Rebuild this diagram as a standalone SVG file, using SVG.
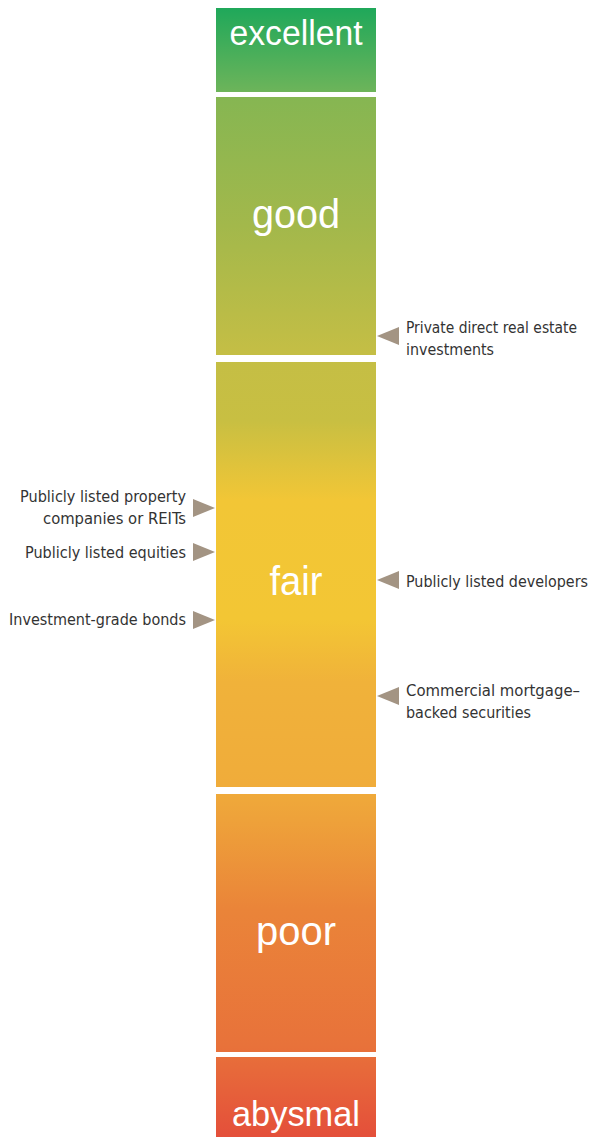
<svg xmlns="http://www.w3.org/2000/svg" width="592" height="1137" viewBox="0 0 592 1137">
<defs>
<linearGradient id="scale" gradientUnits="userSpaceOnUse" x1="0" y1="0" x2="0" y2="1137">
<stop offset="0.007" stop-color="#1fa85a"/>
<stop offset="0.08" stop-color="#6cb45a"/>
<stop offset="0.086" stop-color="#86b652"/>
<stop offset="0.2" stop-color="#a3b84b"/>
<stop offset="0.31" stop-color="#c4be45"/>
<stop offset="0.37" stop-color="#c8bf42"/>
<stop offset="0.44" stop-color="#f2c636"/>
<stop offset="0.545" stop-color="#f3c634"/>
<stop offset="0.6" stop-color="#f0b23a"/>
<stop offset="0.69" stop-color="#f0ac3a"/>
<stop offset="0.72" stop-color="#eea23a"/>
<stop offset="0.8" stop-color="#ea8439"/>
<stop offset="0.92" stop-color="#e8723a"/>
<stop offset="1" stop-color="#e44f3a"/>
</linearGradient>
<style>
.seg{fill:url(#scale)}
.big{font-family:"Liberation Sans",Arial,sans-serif;fill:#ffffff;text-anchor:middle}
.lbl{font-family:"DejaVu Sans Condensed","Liberation Sans",sans-serif;font-size:16.5px;fill:#333333}
.l{text-anchor:end}
.arr{fill:#a39483}
</style>
</defs>
<g id="excellent"><rect class="seg" x="216" y="8" width="160" height="84"/><text class="big" x="296" y="45" font-size="35" textLength="133" lengthAdjust="spacingAndGlyphs">excellent</text></g>
<g id="good"><rect class="seg" x="216" y="97" width="160" height="258"/><text class="big" x="296" y="228" font-size="41" textLength="88" lengthAdjust="spacingAndGlyphs">good</text></g>
<g id="fair"><rect class="seg" x="216" y="362" width="160" height="425"/><text class="big" x="296" y="595" font-size="41" textLength="53" lengthAdjust="spacingAndGlyphs">fair</text></g>
<g id="poor"><rect class="seg" x="216" y="794" width="160" height="258"/><text class="big" x="296" y="945" font-size="41" textLength="80" lengthAdjust="spacingAndGlyphs">poor</text></g>
<g id="abysmal"><rect class="seg" x="216" y="1057" width="160" height="80"/><text class="big" x="296" y="1126" font-size="35" textLength="128" lengthAdjust="spacingAndGlyphs">abysmal</text></g>
<g id="connectors">
<polygon class="arr" points="377,336 399,327 399,345"/>
<polygon class="arr" points="377,580 399,571 399,589"/>
<polygon class="arr" points="377,696 399,687 399,705"/>
<polygon class="arr" points="215,508 193,499 193,517"/>
<polygon class="arr" points="215,552 193,543 193,561"/>
<polygon class="arr" points="215,620 193,611 193,629"/>
</g>
<g id="label-private"><text class="lbl" x="406" y="333" textLength="171" lengthAdjust="spacingAndGlyphs">Private direct real estate</text><text class="lbl" x="406" y="355" textLength="88" lengthAdjust="spacingAndGlyphs">investments</text></g>
<g id="label-developers"><text class="lbl" x="406" y="587" font-size="15.5" style="font-size:15.5px" textLength="182" lengthAdjust="spacingAndGlyphs">Publicly listed developers</text></g>
<g id="label-cmbs"><text class="lbl" x="406" y="696" textLength="174" lengthAdjust="spacingAndGlyphs">Commercial mortgage–</text><text class="lbl" x="406" y="718" textLength="125" lengthAdjust="spacingAndGlyphs">backed securities</text></g>
<g id="label-reits"><text class="lbl l" x="186" y="502" textLength="166" lengthAdjust="spacingAndGlyphs">Publicly listed property</text><text class="lbl l" x="186" y="524" textLength="143" lengthAdjust="spacingAndGlyphs">companies or REITs</text></g>
<g id="label-equities"><text class="lbl l" x="186" y="558" textLength="161" lengthAdjust="spacingAndGlyphs">Publicly listed equities</text></g>
<g id="label-bonds"><text class="lbl l" x="186" y="625" textLength="177" lengthAdjust="spacingAndGlyphs">Investment-grade bonds</text></g>
</svg>
